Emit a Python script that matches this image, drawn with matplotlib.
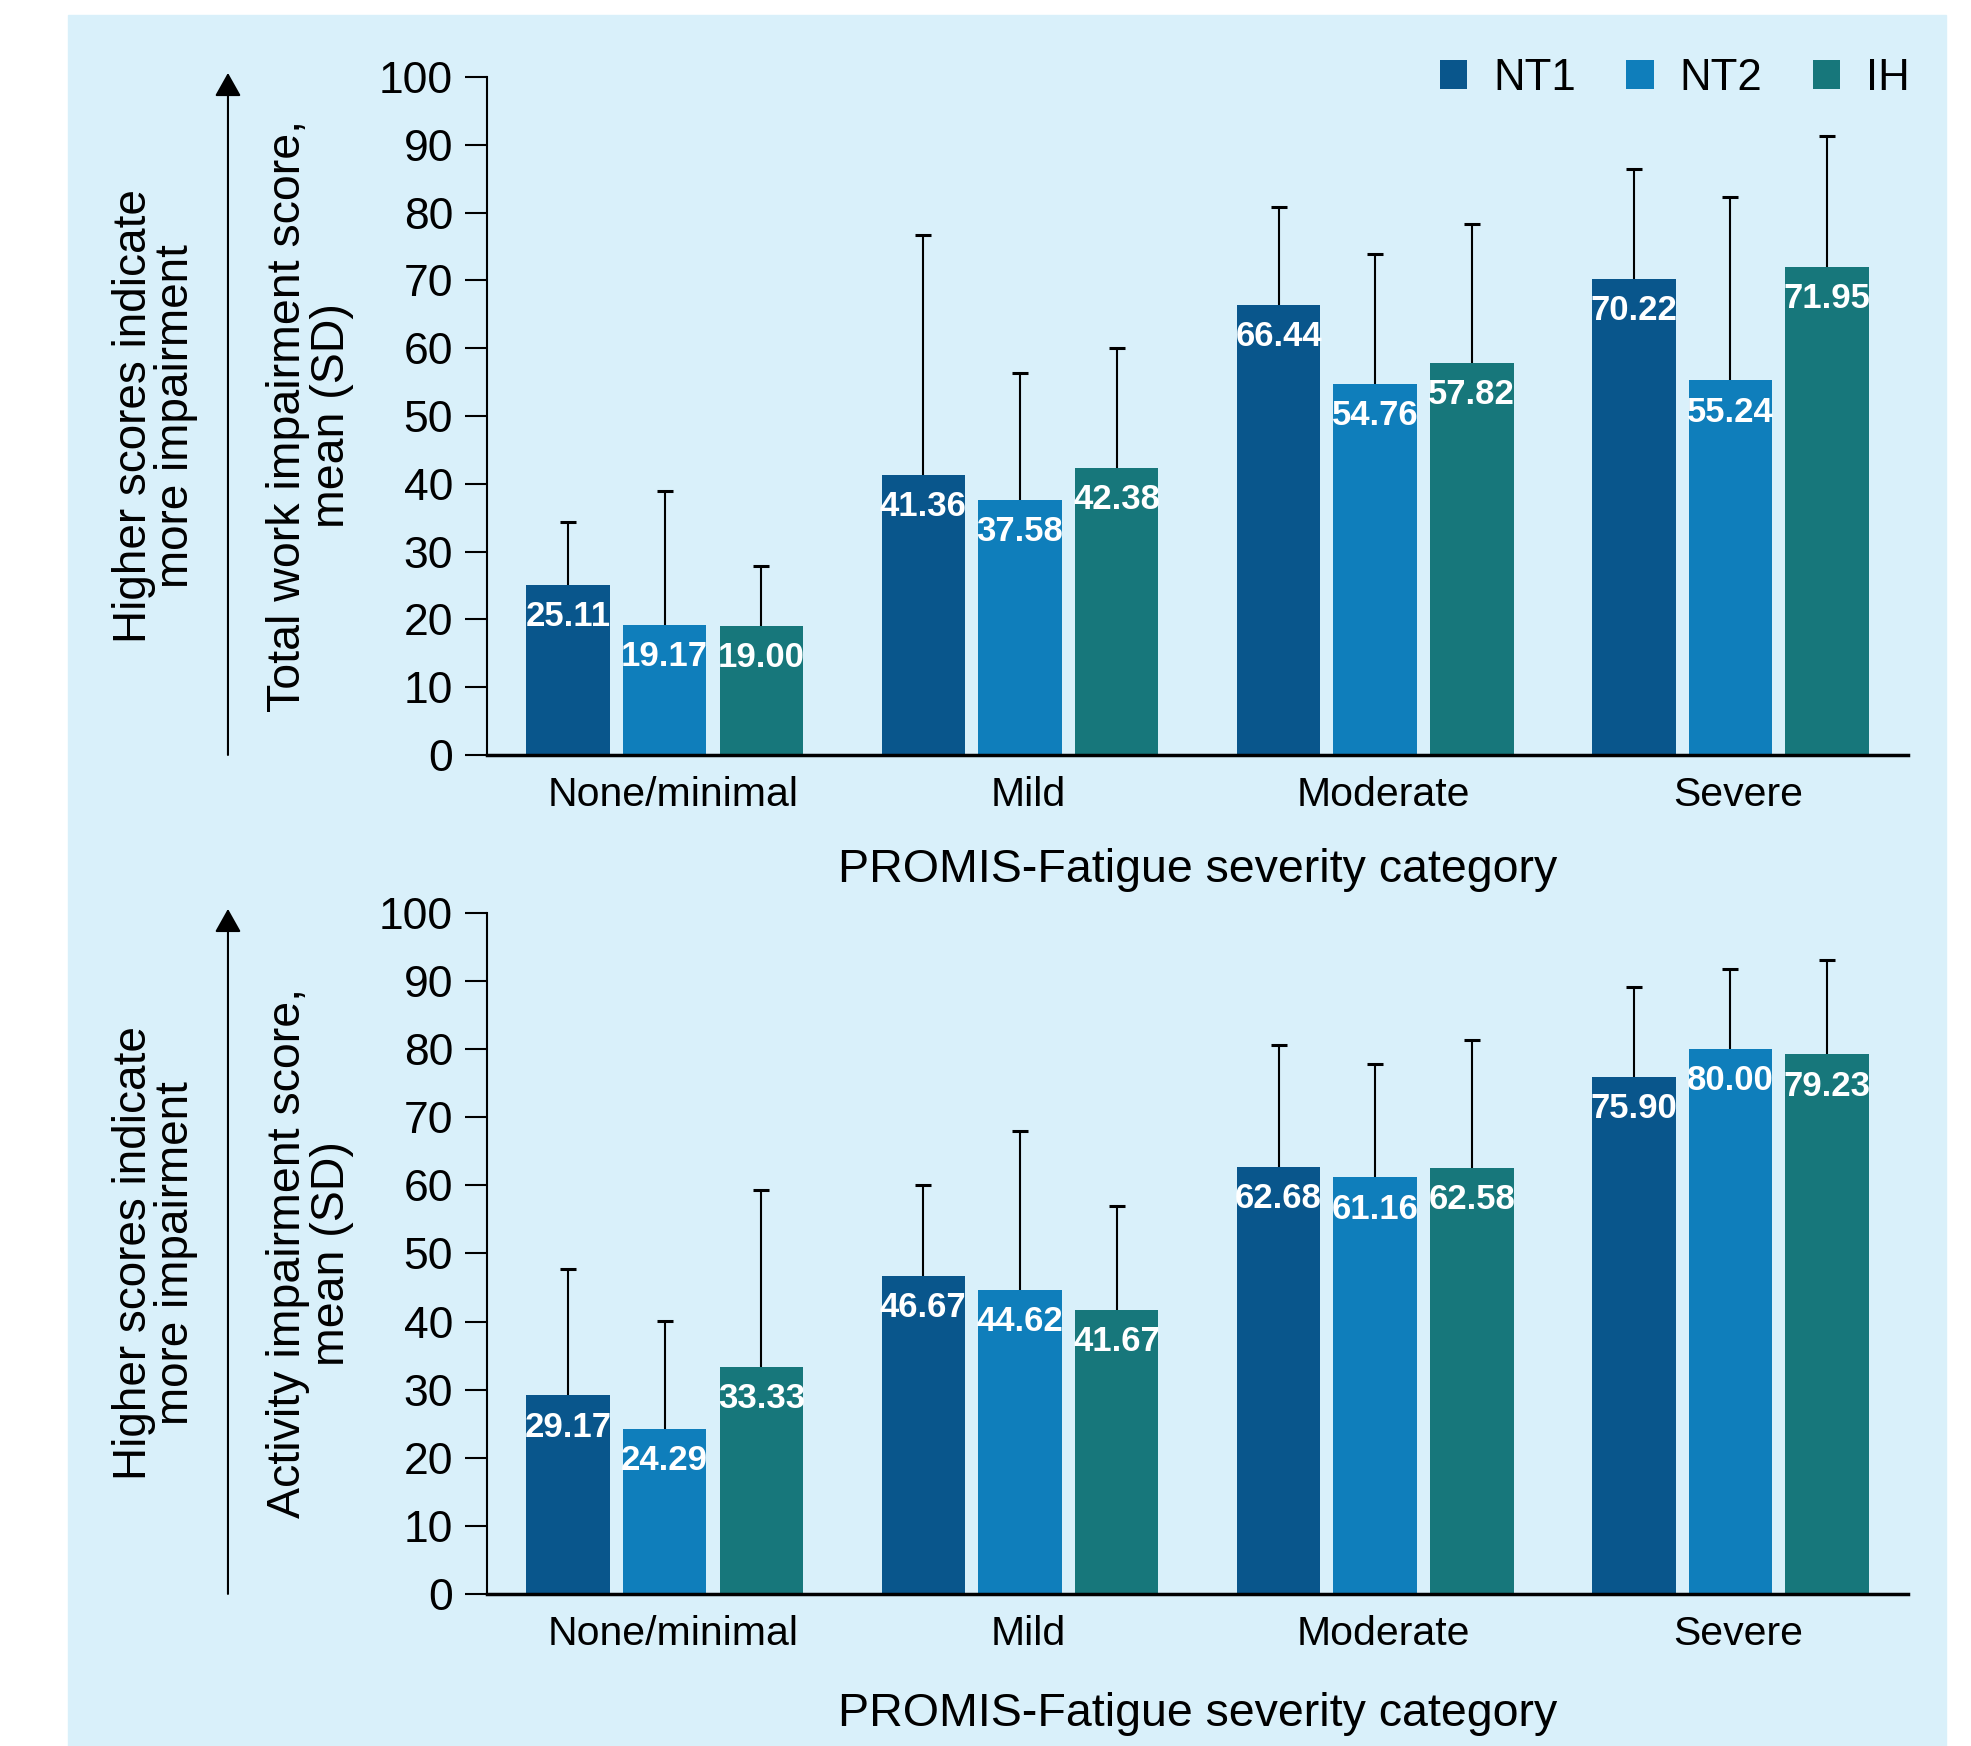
import numpy as np
import matplotlib
matplotlib.use('Agg')
import matplotlib.pyplot as plt
from matplotlib.patches import Rectangle
from matplotlib.transforms import ScaledTranslation

plt.rcParams['font.family'] = ['Liberation Sans', 'DejaVu Sans']

categories = ['None/minimal', 'Mild', 'Moderate', 'Severe']
groups = ['NT1', 'NT2', 'IH']
colors = ['#09568C', '#0F7EBB', '#17777B']
bg = '#D9F0FA'

# total work impairment, mean and SD
work_nt1 = [25.11, 41.36, 66.44, 70.22]
work_nt2 = [19.17, 37.58, 54.76, 55.24]
work_ih = [19.00, 42.38, 57.82, 71.95]
work_nt1_sd = [9.3, 35.3, 14.4, 16.2]
work_nt2_sd = [19.8, 18.7, 19.2, 27.0]
work_ih_sd = [8.9, 17.6, 20.5, 19.3]

# activity impairment, mean and SD
act_nt1 = [29.17, 46.67, 62.68, 75.90]
act_nt2 = [24.29, 44.62, 61.16, 80.00]
act_ih = [33.33, 41.67, 62.58, 79.23]
act_nt1_sd = [18.5, 13.4, 17.9, 13.2]
act_nt2_sd = [15.8, 23.4, 16.6, 11.8]
act_ih_sd = [26.0, 15.3, 18.8, 13.8]

yticks = list(range(0, 101, 10))
side_text = 'Higher scores indicate\nmore impairment'
xlabel = 'PROMIS-Fatigue severity category'


def draw_panel(fig, ax, means, sds, ylabel, xlab_y):
    x = np.arange(len(categories))
    width = 0.235
    step = 0.272
    bars = []
    for i, (m, s) in enumerate(zip(means, sds)):
        xi = x + (i - 1) * step
        b = ax.bar(xi, m, width, color=colors[i], label=groups[i], zorder=2)
        bars.append(b)
        top = np.array(m) + np.array(s)
        ax.errorbar(xi, m, yerr=[np.zeros(len(m)), s], fmt='none',
                    ecolor='black', elinewidth=1.5, capsize=0, zorder=3)
        ax.plot(xi, top, ls='none', marker='_', ms=11, mew=2.2,
                color='black', zorder=3)
        for xx, v in zip(xi, m):
            ax.annotate('%.2f' % v, (xx, v), xytext=(0, -11),
                        textcoords='offset points', ha='center', va='top',
                        color='white', fontsize=25, fontweight='bold', zorder=4)

    ax.set_xlim(-0.5, 3.5)
    ax.set_ylim(0, 100)
    ax.set_yticks(yticks)
    ax.set_xticks(x)
    ax.set_xticklabels(categories, fontsize=29.5)
    ax.tick_params(axis='x', length=0, pad=15)
    ax.tick_params(axis='y', length=15.5, width=1.5, pad=9, labelsize=32)
    # category names sit a little right of the group centres
    shift = ScaledTranslation(0.08, 0, fig.dpi_scale_trans)
    for lab in ax.get_xticklabels():
        lab.set_transform(lab.get_transform() + shift)
    ax.set_facecolor('none')
    for s in ['top', 'right']:
        ax.spines[s].set_visible(False)
    ax.spines['left'].set_linewidth(1.5)
    ax.spines['bottom'].set_linewidth(2.5)

    ax.text(-0.1246, 0.5, ylabel, transform=ax.transAxes, rotation=90,
            ha='center', va='center', fontsize=33.5, linespacing=1.0,
            multialignment='center')
    ax.text(-0.2336, 0.5, side_text, transform=ax.transAxes, rotation=90,
            ha='center', va='center', fontsize=33, linespacing=0.95,
            multialignment='center')
    ax.annotate('', xy=(-0.1823, 1.006), xytext=(-0.1823, 0.0),
                xycoords='axes fraction', annotation_clip=False,
                arrowprops=dict(arrowstyle='-|>,head_length=0.8,head_width=0.45',
                                mutation_scale=18, lw=1.5, color='black',
                                shrinkA=0, shrinkB=0))
    ax.text(0.5, xlab_y, xlabel, transform=ax.transAxes, ha='center',
            va='center', fontsize=33.5)
    return bars


fig = plt.figure(figsize=(19.71, 17.46), dpi=100)
fig.patches.append(Rectangle((68 / 1971, 0), (1946 - 68) / 1971, (1746 - 15) / 1746,
                             transform=fig.transFigure, color=bg, zorder=-1))

ax1 = fig.add_axes([0.2471, 0.5676, 0.7210, 0.3883])
ax2 = fig.add_axes([0.2471, 0.0871, 0.7210, 0.3900])

bars = draw_panel(fig, ax1, [work_nt1, work_nt2, work_ih],
                  [work_nt1_sd, work_nt2_sd, work_ih_sd],
                  'Total work impairment score,\nmean (SD)', -0.169)
draw_panel(fig, ax2, [act_nt1, act_nt2, act_ih],
           [act_nt1_sd, act_nt2_sd, act_ih_sd],
           'Activity impairment score,\nmean (SD)', -0.177)

ax1.legend(bars, groups, loc='upper right',
           bbox_to_anchor=(1910 / 1971, 1 - 58 / 1746),
           bbox_transform=fig.transFigure, ncol=3, frameon=False,
           fontsize=31.5, handlelength=0.62, handleheight=0.62,
           handletextpad=0.6, columnspacing=1.15, borderaxespad=0,
           borderpad=0)

fig.savefig('out.png', dpi=100, facecolor='white')
